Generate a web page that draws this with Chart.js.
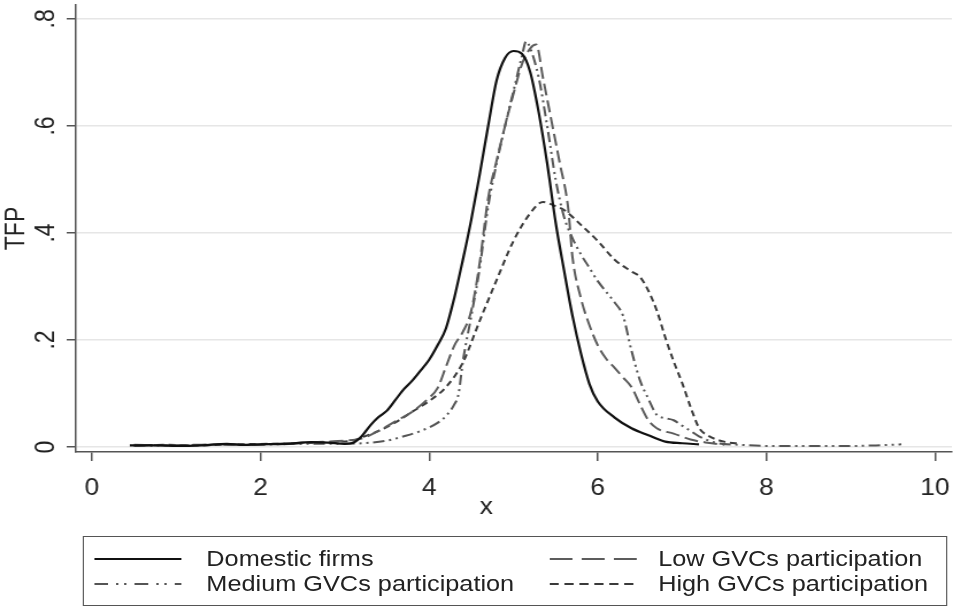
<!DOCTYPE html>
<html>
<head>
<meta charset="utf-8">
<script src="https://cdn.jsdelivr.net/npm/chart.js@4.4.1/dist/chart.umd.min.js"></script>
<style>
  body { margin: 0; background: #fff; }
  #wrap {
    position: relative; width: 829px; height: 611px;
    transform: scaleX(1.1496); transform-origin: 0 0;
    font-family: "Liberation Sans", Arial, sans-serif; color: #222;
  }
  #myChart { position: absolute; left: 0; top: 0; }
  #legend {
    position: absolute; left: 72px; top: 536px; width: 752px; height: 70px;
    border: 1.5px solid #555; box-sizing: border-box;
  }
  #legend svg { position: absolute; width: 76px; height: 10px; }
  #legend span { position: absolute; font-size: 22px; line-height: 26px; white-space: nowrap; }
</style>
</head>
<body>
<div id="wrap">
  <canvas id="myChart" width="829" height="530"></canvas>
  <div id="legend"></div>
</div>
<script>
// axis ticks
const xTicks = [0, 2, 4, 6, 8, 10];
const yTicks = [0, 0.2, 0.4, 0.6, 0.8];

const seriesNames = ['Domestic firms', 'Low GVCs participation', 'Medium GVCs participation', 'High GVCs participation'];

// kernel densities
const domX = [0.45, 0.8, 1.0, 1.3, 1.6, 1.8, 2.0, 2.3, 2.6, 2.8, 3.0, 3.1, 3.2, 3.3, 3.4, 3.5, 3.6, 3.7, 3.8, 3.9,
    4.0, 4.1, 4.2, 4.3, 4.4, 4.5, 4.6, 4.7, 4.8, 4.9, 5.0, 5.1, 5.2, 5.3, 5.4, 5.5, 5.6, 5.7, 5.8, 5.9,
    6.0, 6.2, 6.4, 6.6, 6.8, 7.0, 7.2];
const domY = [0.003, 0.003, 0.002, 0.003, 0.006, 0.004, 0.005, 0.006, 0.009, 0.008, 0.006, 0.008, 0.02, 0.04, 0.056, 0.068, 0.088, 0.108, 0.124, 0.143,
    0.163, 0.19, 0.222, 0.28, 0.35, 0.425, 0.51, 0.6, 0.685, 0.727, 0.74, 0.735, 0.70, 0.625, 0.53, 0.42, 0.33, 0.245, 0.175, 0.118,
    0.085, 0.055, 0.035, 0.022, 0.01, 0.007, 0.005];

const lowX = [0.5, 0.9, 1.2, 1.5, 1.9, 2.2, 2.5, 2.8, 3.0, 3.2, 3.4, 3.6, 3.8, 4.0, 4.1, 4.2, 4.3, 4.4, 4.5, 4.6,
    4.7, 4.8, 4.9, 5.0, 5.1, 5.2, 5.27, 5.35, 5.45, 5.55, 5.65, 5.7, 5.8, 5.9, 6.0, 6.1, 6.2, 6.3, 6.4, 6.5,
    6.6, 6.7, 6.9, 7.1, 7.3, 7.5];
const lowY = [0.004, 0.003, 0.004, 0.005, 0.004, 0.006, 0.008, 0.01, 0.012, 0.016, 0.03, 0.048, 0.066, 0.092, 0.11, 0.15, 0.19, 0.215, 0.255, 0.345,
    0.465, 0.535, 0.6, 0.66, 0.715, 0.745, 0.752, 0.69, 0.61, 0.53, 0.445, 0.355, 0.278, 0.228, 0.19, 0.165, 0.148, 0.13, 0.112, 0.08,
    0.05, 0.035, 0.025, 0.014, 0.008, 0.004];

const medX = [0.5, 1.0, 1.4, 1.8, 2.2, 2.6, 3.0, 3.3, 3.5, 3.7, 3.9, 4.1, 4.2, 4.3, 4.35, 4.4, 4.5, 4.6, 4.7, 4.8,
    4.9, 5.0, 5.1, 5.15, 5.2, 5.3, 5.4, 5.5, 5.6, 5.7, 5.8, 5.9, 6.0, 6.1, 6.2, 6.3, 6.4, 6.5, 6.6, 6.7,
    6.8, 6.9, 7.0, 7.1, 7.2, 7.4, 7.7, 8.0, 8.5, 9.0, 9.3, 9.6];
const medY = [0.002, 0.003, 0.004, 0.004, 0.005, 0.006, 0.006, 0.008, 0.012, 0.02, 0.03, 0.045, 0.058, 0.08, 0.1, 0.16, 0.245, 0.335, 0.45, 0.53,
    0.6, 0.665, 0.73, 0.758, 0.745, 0.69, 0.6, 0.5, 0.43, 0.39, 0.36, 0.335, 0.31, 0.29, 0.27, 0.245, 0.18, 0.125, 0.09, 0.06,
    0.054, 0.05, 0.04, 0.03, 0.02, 0.008, 0.004, 0.002, 0.002, 0.002, 0.003, 0.005];

const highX = [0.5, 0.9, 1.3, 1.7, 2.1, 2.5, 2.9, 3.1, 3.2, 3.4, 3.6, 3.8, 4.0, 4.2, 4.4, 4.6, 4.8, 5.0, 5.2, 5.35,
    5.5, 5.6, 5.8, 6.0, 6.2, 6.4, 6.5, 6.6, 6.7, 6.8, 6.9, 7.0, 7.1, 7.2, 7.3, 7.5, 7.7];
const highY = [0.003, 0.004, 0.003, 0.005, 0.006, 0.007, 0.01, 0.012, 0.018, 0.03, 0.046, 0.066, 0.086, 0.112, 0.158, 0.236, 0.312, 0.385, 0.437, 0.458,
    0.45, 0.443, 0.415, 0.385, 0.35, 0.328, 0.318, 0.292, 0.255, 0.205, 0.16, 0.12, 0.075, 0.036, 0.022, 0.01, 0.006];

const lineColors = ['#111', '#5c5c5c', '#555', '#3a3a3a'];
const lineWidths = [2.2, 2, 2, 2];
const lineDashes = [[], [12, 5], [10, 4, 2, 4, 2, 4], [6, 4]];
const legendDashes = ['', '20 8', '12 7 2 5 2 7', '8 5'];

const fontFamily = '"Liberation Sans", Arial, sans-serif';
Chart.defaults.font.family = fontFamily;
Chart.defaults.color = '#222';

const toPoints = (xs, ys) => xs.map((x, i) => ({ x: x, y: ys[i] }));
const allSeries = [[domX, domY], [lowX, lowY], [medX, medY], [highX, highY]];

const datasets = allSeries.map((s, i) => ({
    label: seriesNames[i],
    data: toPoints(s[0], s[1]),
    borderColor: lineColors[i],
    borderWidth: lineWidths[i],
    borderDash: lineDashes[i],
    pointRadius: 0,
    fill: false,
    cubicInterpolationMode: 'monotone'
}));

const xTitle = {
    id: 'xTitle',
    afterDraw(chart) {
        const ctx = chart.ctx;
        ctx.save();
        ctx.font = '23px ' + fontFamily;
        ctx.fillStyle = '#222';
        ctx.textAlign = 'center';
        ctx.textBaseline = 'middle';
        ctx.fillText('x', 423, 508);
        ctx.restore();
    }
};

const ctx = document.getElementById('myChart');
new Chart(ctx, {
    type: 'line',
    data: { datasets: datasets },
    options: {
        responsive: false,
        animation: false,
        layout: { padding: { top: 5, right: 1, left: 0, bottom: 0 } },
        plugins: { legend: { display: false }, tooltip: { enabled: false } },
        scales: {
            x: {
                type: 'linear',
                min: -0.19,
                max: 10.2,
                afterBuildTicks: (scale) => { scale.ticks = xTicks.map(v => ({ value: v })); },
                afterFit: (scale) => {
                    scale.height = 78;
                    scale.paddingLeft = 0;
                    scale.paddingRight = 0;
                },
                ticks: { font: { size: 23 }, color: '#222', padding: 14, maxRotation: 0 },
                grid: { drawOnChartArea: false, tickLength: 9, tickColor: '#555', lineWidth: 1.5 },
                border: { color: '#555', width: 1.5 }
            },
            y: {
                min: -0.00935,
                max: 0.826,
                afterBuildTicks: (scale) => { scale.ticks = yTicks.map(v => ({ value: v })); },
                afterFit: (scale) => {
                    scale.width = 66;
                    scale.paddingTop = 0;
                    scale.paddingBottom = 0;
                },
                ticks: {
                    font: { size: 23 }, color: '#222', padding: 8,
                    minRotation: 90, maxRotation: 90, crossAlign: 'center',
                    callback: (v) => v === 0 ? '0' : String(v).replace('0.', '.')
                },
                grid: { color: '#e6e6e6', lineWidth: 1.5, tickLength: 8, tickColor: '#555' },
                border: { color: '#555', width: 1.5 },
                title: { display: true, text: 'TFP', font: { size: 23 }, color: '#222', padding: { top: 1, bottom: 0 } }
            }
        }
    },
    plugins: [xTitle]
});

// legend, two columns like the original
const legend = document.getElementById('legend');
const slots = [[9, 21.5, 106.5], [404.5, 21.5, 499.5], [9, 46.5, 106.5], [404.5, 46.5, 499.5]];
seriesNames.forEach((name, i) => {
    const [sx, cy, tx] = slots[i];
    const svg = document.createElementNS('http://www.w3.org/2000/svg', 'svg');
    svg.setAttribute('viewBox', '0 0 76 10');
    svg.style.left = sx + 'px';
    svg.style.top = (cy - 5) + 'px';
    const ln = document.createElementNS('http://www.w3.org/2000/svg', 'line');
    ln.setAttribute('x1', 0); ln.setAttribute('x2', 76);
    ln.setAttribute('y1', 5); ln.setAttribute('y2', 5);
    ln.setAttribute('stroke', lineColors[i]);
    ln.setAttribute('stroke-width', lineWidths[i]);
    if (legendDashes[i]) ln.setAttribute('stroke-dasharray', legendDashes[i]);
    svg.appendChild(ln);
    legend.appendChild(svg);
    const sp = document.createElement('span');
    sp.textContent = name;
    sp.style.left = tx + 'px';
    sp.style.top = (cy - 13) + 'px';
    legend.appendChild(sp);
});
</script>
</body>
</html>
